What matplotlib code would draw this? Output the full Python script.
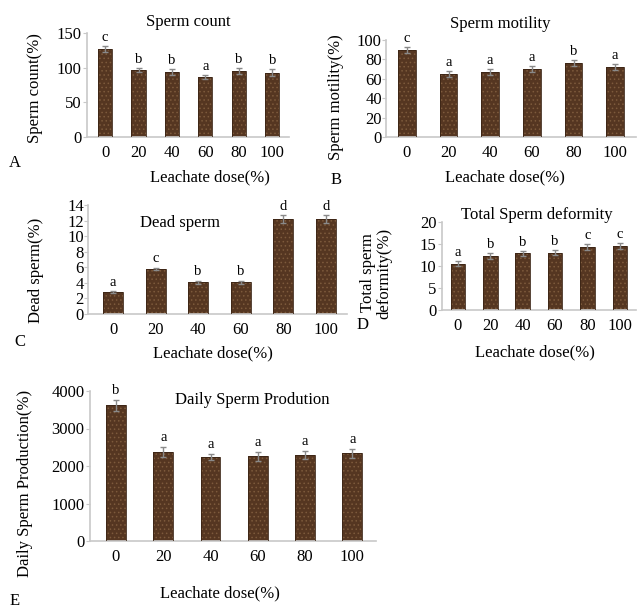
import matplotlib
matplotlib.use("Agg")
import matplotlib.pyplot as plt
import numpy as np

plt.rcParams['font.family'] = ['Liberation Serif', 'DejaVu Serif']
plt.rcParams['hatch.linewidth'] = 0.6

doses = ["0", "20", "40", "60", "80", "100"]

count_vals = [127, 97, 94, 87, 95, 93]
count_err = [4, 3, 4, 3, 4, 5]
count_letters = ["c", "b", "b", "a", "b", "b"]

motility_vals = [90, 65, 67, 70, 76, 72]
motility_err = [3, 3, 3, 3, 3, 3]
motility_letters = ["c", "a", "a", "a", "b", "a"]

dead_vals = [2.8, 5.8, 4.1, 4.1, 12.2, 12.2]
dead_err = [0.15, 0.15, 0.2, 0.2, 0.5, 0.5]
dead_letters = ["a", "c", "b", "b", "d", "d"]

deform_vals = [10.5, 12.3, 12.9, 13.0, 14.3, 14.6]
deform_err = [0.6, 0.7, 0.6, 0.6, 0.7, 0.7]
deform_letters = ["a", "b", "b", "b", "c", "c"]

dsp_vals = [3620, 2370, 2240, 2260, 2300, 2340]
dsp_err = [150, 130, 90, 120, 100, 120]
dsp_letters = ["b", "a", "a", "a", "a", "a"]

W, H = 638, 610
fig = plt.figure(figsize=(W / 100, H / 100), dpi=100)

BAR = "#553621"
TEX = "#7d5a3c"
AXC = "#c8c8c8"


def px_axes(x0, x1, y_top, y_bot):
    return fig.add_axes([x0 / W, 1 - y_bot / H, (x1 - x0) / W, (y_bot - y_top) / H])


def panel(ax, vals, errs, letters, ylim, yticks, xlim, width, fs=10.5, letter_off=0.02):
    x = np.arange(len(doses))
    ax.bar(x, vals, width=width, color=BAR, edgecolor="none", linewidth=0, zorder=2)
    ax.bar(x, vals, width=width, facecolor="none", edgecolor=TEX, linewidth=0,
           hatch="....", zorder=2.5)
    ax.bar(x, vals, width=width, facecolor="none", edgecolor="#3a2414", linewidth=0.6, zorder=2.6)
    ax.errorbar(x, vals, yerr=errs, fmt="none", ecolor="#8a8a8a", elinewidth=1,
                capsize=2.5, capthick=1, zorder=3)
    rng = ylim[1] - ylim[0]
    for xi, v, e, l in zip(x, vals, errs, letters):
        ax.text(xi, v + e + letter_off * rng, l, ha="center", va="bottom", fontsize=fs,
                zorder=4, clip_on=False)
    ax.set_xlim(*xlim)
    ax.set_ylim(*ylim)
    ax.set_yticks(yticks)
    ax.set_xticks(x)
    ax.set_xticklabels(doses)
    for s in ["top", "right"]:
        ax.spines[s].set_visible(False)
    for s in ["left", "bottom"]:
        ax.spines[s].set_color(AXC)
        ax.spines[s].set_linewidth(1.2)
    ax.tick_params(axis="y", length=3, color=AXC, labelsize=fs + 1.5, pad=1)
    ax.tick_params(axis="x", length=0, labelsize=fs + 1.5, pad=6)
    ax.set_facecolor("none")
    return ax


# Panel A
axA = px_axes(87, 289, 33, 137)
panel(axA, count_vals, count_err, count_letters, (0, 150), [0, 50, 100, 150],
      (-0.54, 5.5), 0.42)
fig.text(188 / W, 1 - 22 / H, "Sperm count", ha="center", va="center", fontsize=12)
fig.text(35 / W, 1 - 88 / H, "Sperm count(%)", rotation=90, ha="center", va="center", fontsize=12)
fig.text(210 / W, 1 - 177 / H, "Leachate dose(%)", ha="center", va="center", fontsize=12)
fig.text(15 / W, 1 - 163 / H, "A", ha="center", va="center", fontsize=12)

# Panel B
axB = px_axes(386, 636, 40, 137)
panel(axB, motility_vals, motility_err, motility_letters, (0, 100), [0, 20, 40, 60, 80, 100],
      (-0.5, 5.5), 0.42)
axB.tick_params(axis="y", pad=0)
fig.text(500 / W, 1 - 24 / H, "Sperm motility", ha="center", va="center", fontsize=12)
fig.text(336 / W, 1 - 97 / H, "Sperm motility(%)", rotation=90, ha="center", va="center", fontsize=12)
fig.text(505 / W, 1 - 177 / H, "Leachate dose(%)", ha="center", va="center", fontsize=12)
fig.text(336 / W, 1 - 180 / H, "B", ha="center", va="center", fontsize=12)

# Panel C
axC = px_axes(88, 347, 205, 314)
panel(axC, dead_vals, dead_err, dead_letters, (0, 14), [0, 2, 4, 6, 8, 10, 12, 14],
      (-0.59, 5.5), 0.47)
axC.tick_params(axis="y", pad=0)
fig.text(180 / W, 1 - 223 / H, "Dead sperm", ha="center", va="center", fontsize=12)
fig.text(36 / W, 1 - 270 / H, "Dead sperm(%)", rotation=90, ha="center", va="center", fontsize=12)
fig.text(213 / W, 1 - 353 / H, "Leachate dose(%)", ha="center", va="center", fontsize=12)
fig.text(20 / W, 1 - 342 / H, "C", ha="center", va="center", fontsize=12)

# Panel D
axD = px_axes(442, 636, 222, 310)
panel(axD, deform_vals, deform_err, deform_letters, (0, 20), [0, 5, 10, 15, 20],
      (-0.49, 5.5), 0.45)
fig.text(537 / W, 1 - 215 / H, "Total Sperm deformity", ha="center", va="center", fontsize=12)
fig.text(376 / W, 1 - 273 / H, "Total sperm\ndeformity(%)", rotation=90, ha="center",
         va="center", fontsize=12, linespacing=1.0)
fig.text(535 / W, 1 - 352 / H, "Leachate dose(%)", ha="center", va="center", fontsize=12)
fig.text(363 / W, 1 - 325 / H, "D", ha="center", va="center", fontsize=12)

# Panel E
axE = px_axes(90, 376, 391, 541)
panel(axE, dsp_vals, dsp_err, dsp_letters, (0, 4000), [0, 1000, 2000, 3000, 4000],
      (-0.55, 5.5), 0.42)
fig.text(252 / W, 1 - 400 / H, "Daily Sperm Prodution", ha="center", va="center", fontsize=12)
fig.text(25 / W, 1 - 483 / H, "Daily Sperm Production(%)", rotation=90, ha="center", va="center", fontsize=12)
fig.text(220 / W, 1 - 593 / H, "Leachate dose(%)", ha="center", va="center", fontsize=12)
fig.text(15 / W, 1 - 601 / H, "E", ha="center", va="center", fontsize=12)

fig.savefig("out.png", dpi=100)
